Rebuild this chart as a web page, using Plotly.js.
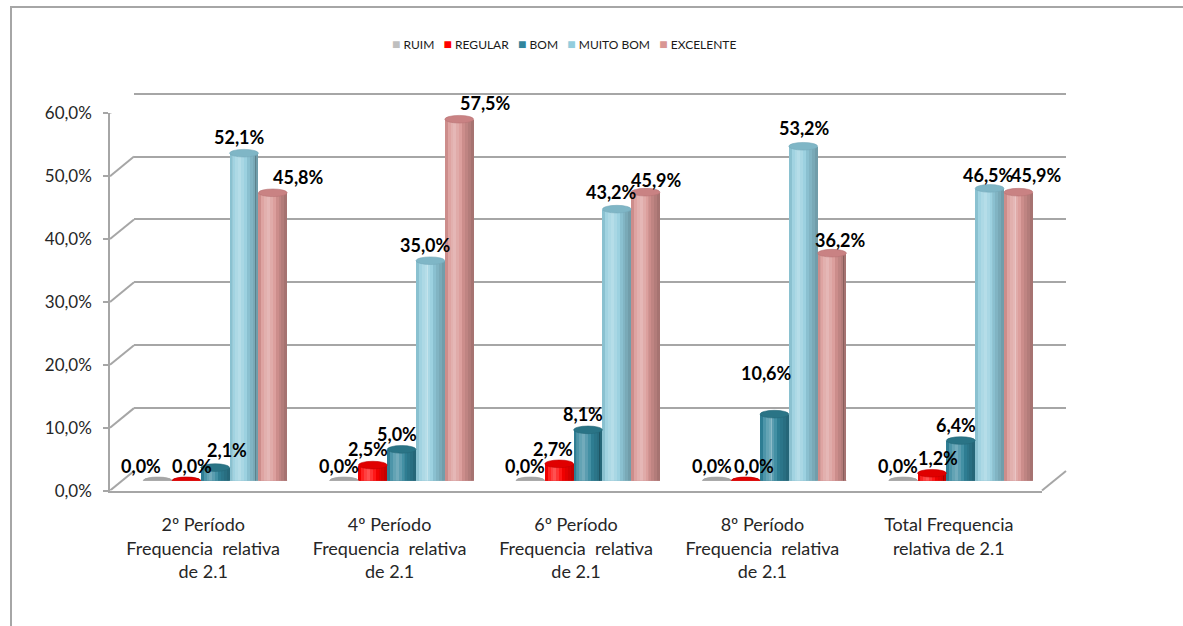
<!DOCTYPE html>
<html>
<head>
<meta charset="utf-8">
<script src="https://cdn.plot.ly/plotly-3.0.1.min.js"></script>
<style>
  html, body { margin: 0; padding: 0; background: #ffffff; }
  #chart { width: 1183px; height: 626px; }
</style>
</head>
<body>
<div id="chart"></div>
<script>
// ---- data ----
const categories = [
  "2º Período<br>Frequencia\u00a0 relativa<br>de 2.1",
  "4º Período<br>Frequencia\u00a0 relativa<br>de 2.1",
  "6º Período<br>Frequencia\u00a0 relativa<br>de 2.1",
  "8º Período<br>Frequencia\u00a0 relativa<br>de 2.1",
  "Total Frequencia<br>relativa de 2.1"
];
const seriesNames = ["RUIM", "REGULAR", "BOM", "MUITO BOM", "EXCELENTE"];
const ruim      = [0.0, 0.0, 0.0, 0.0, 0.0];
const regular   = [0.0, 2.5, 2.7, 0.0, 1.2];
const bom       = [2.1, 5.0, 8.1, 10.6, 6.4];
const muitoBom  = [52.1, 35.0, 43.2, 53.2, 46.5];
const excelente = [45.8, 57.5, 45.9, 36.2, 45.9];
const tickValues = [0, 10, 20, 30, 40, 50, 60];
const tickLabels = ["0,0%", "10,0%", "20,0%", "30,0%", "40,0%", "50,0%", "60,0%"];

const seriesValues = [ruim, regular, bom, muitoBom, excelente];

// ---- styling ----
const bodyColors = ["#BFBFBF", "#FF0000", "#31859C", "#93CDDD", "#D99694"];
const capColors  = ["#A6A6A6", "#E00000", "#2A7486", "#7FB6C6", "#C98283"];
const baseColors = ["#A6A6A6", "#C00000", "#256878", "#76AABA", "#B87475"];
const GRID = "#A6A6A6";
const FONT = "Lato, 'Open Sans', sans-serif";

// pixel offsets of each value label from the top of its cylinder [dx, dy]
const labelOffsets = [
  [[-17, -15], [-5.5, -15], [-5.5, -15], [-5, -15], [-5, -15]],
  [[6, -15], [-5, -16], [-6, -15], [8.5, -15], [5.5, -15]],
  [[12, -18], [-4.5, -15], [-5.5, -16], [-8, -41], [-5, -15.5]],
  [[-4.5, -16], [-5, -16], [-5, -17], [1, -18], [-1, -13]],
  [[26, -16], [26, -16], [11, -12], [8.5, -13], [18, -17]]
];

// ---- box geometry (pixels) ----
const W = 1183, H = 626;
const FRONT = { left: 110, right: 1042, zero: 490.6, top: 113.3 };
const DEPTH = { dx: 24, dy: -19.6 };
const Y_MAX = 60;
const WALL_PAD = 1.05;  // back wall axis runs a bit past 60 so its top gridline is kept
const BW = 0.1545;      // cylinder width in category units
const RY = 3.8;         // half-height of the elliptical caps, px
const SLICES = 10;      // vertical strips used to shade each cylinder

const px = x => x / W;
const py = y => 1 - y / H;
const plane = f => ({
  left: FRONT.left + DEPTH.dx * f,
  right: FRONT.right + DEPTH.dx * f,
  zero: FRONT.zero + DEPTH.dy * f,
  top: FRONT.top + DEPTH.dy * f
});
const BACK = plane(1), MID = plane(0.5);
const backTopPadded = BACK.zero + (BACK.top - BACK.zero) * WALL_PAD;

const fmt = v => v.toFixed(1).replace(".", ",") + "%";
const xPos = (i, j) => i + (j - 2) * BW;

// light/dark tint across a cylinder, t = 0 (left edge) .. 1 (right edge)
function shade(t) {
  const light = Math.max(0, 1 - Math.abs(t - 0.33) / 0.3) * 0.34;
  const darkR = Math.max(0, (t - 0.55) / 0.45) * 0.26;
  const darkL = Math.max(0, (0.14 - t) / 0.14) * 0.12;
  const net = light - darkR - darkL;
  return net >= 0 ? "rgba(255,255,255," + net.toFixed(3) + ")"
                  : "rgba(0,0,0," + (-net).toFixed(3) + ")";
}

// ---- traces ----
const traces = [];
// empty traces so the wall and front-axis subplots exist
traces.push({ type: "scatter", x: [], y: [], xaxis: "x", yaxis: "y", showlegend: false, hoverinfo: "skip" });
traces.push({ type: "scatter", x: categories, y: categories.map(() => null), xaxis: "x2", yaxis: "y2", showlegend: false, hoverinfo: "skip" });

seriesValues.forEach((vals, j) => {
  const xs = vals.map((_, i) => xPos(i, j));
  traces.push({
    type: "bar", name: seriesNames[j], x: xs, y: vals, width: BW,
    xaxis: "x3", yaxis: "y3", marker: { color: bodyColors[j], line: { width: 0 } },
    showlegend: false, hovertemplate: seriesNames[j] + ": %{y:.1f}%<extra></extra>"
  });
  // cylinder shading strips
  for (let k = 0; k < SLICES; k++) {
    const t = (k + 0.5) / SLICES;
    traces.push({
      type: "bar", x: xs.map(x => x - BW / 2 + t * BW), y: vals, width: BW / SLICES * 1.02,
      xaxis: "x3", yaxis: "y3", marker: { color: shade(t), line: { width: 0 } },
      showlegend: false, hoverinfo: "skip"
    });
  }
});

// ---- shapes ----
const shapes = [];
// outer frame
shapes.push({
  type: "rect", xref: "paper", yref: "paper",
  x0: px(11), y0: py(7), x1: 1.05, y1: -0.05,
  line: { color: "#A6A6A6", width: 2 }, fillcolor: "rgba(0,0,0,0)", layer: "below"
});
// side-wall diagonals from the front axis to the back wall
tickValues.forEach(v => {
  shapes.push({
    type: "line", xref: "paper", yref: "y2", ysizemode: "pixel", yanchor: v,
    x0: px(FRONT.left), x1: px(BACK.left), y0: 0, y1: -DEPTH.dy,
    line: { color: GRID, width: 2 }, layer: "below"
  });
});
// right edge of the floor
shapes.push({
  type: "line", xref: "paper", yref: "paper",
  x0: px(FRONT.right), y0: py(FRONT.zero), x1: px(BACK.right), y1: py(BACK.zero),
  line: { color: GRID, width: 2 }, layer: "below"
});
// cylinder bottoms and tops
seriesValues.forEach((vals, j) => {
  vals.forEach((v, i) => {
    const xc = xPos(i, j);
    shapes.push({
      type: "circle", xref: "x3", yref: "y3", ysizemode: "pixel", yanchor: 0,
      x0: xc - BW / 2, x1: xc + BW / 2, y0: -RY, y1: RY,
      fillcolor: baseColors[j], line: { width: 0 }, layer: "between"
    });
    shapes.push({
      type: "circle", xref: "x3", yref: "y3", ysizemode: "pixel", yanchor: v,
      x0: xc - BW / 2, x1: xc + BW / 2, y0: -RY, y1: RY,
      fillcolor: capColors[j], line: { color: baseColors[j], width: 0.6 }, layer: "above"
    });
  });
});

// ---- annotations ----
const annotations = [];
seriesValues.forEach((vals, j) => {
  vals.forEach((v, i) => {
    const [dx, dy] = labelOffsets[j][i];
    annotations.push({
      xref: "x3", yref: "y3", x: xPos(i, j), y: v,
      xshift: dx, yshift: -dy, xanchor: "center", yanchor: "middle",
      text: "<b>" + fmt(v) + "</b>", showarrow: false,
      font: { family: FONT, size: 18, color: "#000000" }
    });
  });
});
// legend row
annotations.push({
  xref: "paper", yref: "paper", x: px(564), y: py(43), xanchor: "center", yanchor: "middle",
  showarrow: false,
  text: seriesNames.map((n, j) =>
    "<span style=\"color:" + bodyColors[j] + ";font-size:14px\">\u25A0</span>\u00a0" + n)
    .join("\u00a0\u00a0\u00a0"),
  font: { family: FONT, size: 12, color: "#1a1a1a" }
});

// ---- layout ----
const hidden = { visible: false, fixedrange: true };
const layout = {
  width: W, height: H,
  margin: { l: 0, r: 0, t: 0, b: 0 },
  paper_bgcolor: "#ffffff", plot_bgcolor: "rgba(0,0,0,0)",
  showlegend: false, barmode: "overlay", bargap: 0,
  font: { family: FONT, color: "#262626" },
  // back wall
  xaxis: Object.assign({}, hidden, { domain: [px(BACK.left), px(BACK.right)], range: [0, 1], anchor: "y" }),
  yaxis: {
    domain: [py(BACK.zero), py(backTopPadded)], range: [0, Y_MAX * WALL_PAD], anchor: "x",
    tickvals: tickValues, showticklabels: false, ticks: "",
    showgrid: true, gridcolor: GRID, gridwidth: 2, zeroline: false, showline: false, fixedrange: true
  },
  // front edge: value axis and category labels
  xaxis2: {
    domain: [px(FRONT.left), px(FRONT.right)], anchor: "y2", type: "category",
    categoryorder: "array", categoryarray: categories, range: [-0.5, categories.length - 0.5],
    showline: true, linecolor: GRID, linewidth: 2, ticks: "", showgrid: false, zeroline: false,
    ticklabelstandoff: 17, tickfont: { family: FONT, size: 18, color: "#262626" }, fixedrange: true
  },
  yaxis2: {
    domain: [py(FRONT.zero), py(FRONT.top)], range: [0, Y_MAX], anchor: "x2",
    tickvals: tickValues, ticktext: tickLabels, ticks: "outside", ticklen: 5, tickwidth: 1.5,
    tickcolor: GRID, showline: true, linecolor: GRID, linewidth: 1.5, showgrid: false,
    zeroline: false, ticklabelstandoff: 8, tickfont: { family: FONT, size: 17, color: "#262626" },
    fixedrange: true
  },
  // cylinders, standing halfway into the depth
  xaxis3: Object.assign({}, hidden, {
    domain: [px(MID.left), px(MID.right)], range: [-0.5, categories.length - 0.5], anchor: "y3"
  }),
  yaxis3: Object.assign({}, hidden, {
    domain: [py(MID.zero), py(MID.top)], range: [0, Y_MAX], anchor: "x3"
  }),
  shapes: shapes,
  annotations: annotations
};

Plotly.newPlot("chart", traces, layout, { displayModeBar: false, responsive: false });
</script>
</body>
</html>
